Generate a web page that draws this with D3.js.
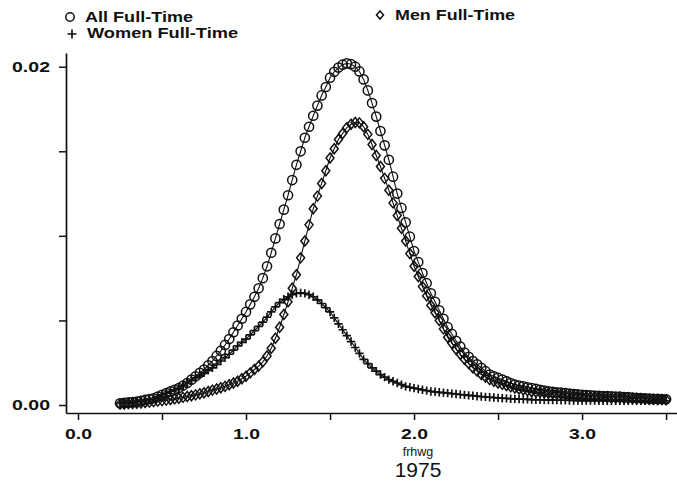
<!DOCTYPE html>
<html>
<head>
<meta charset="utf-8">
<script src="https://cdn.jsdelivr.net/npm/d3@7"></script>
<style>
  html, body { margin: 0; padding: 0; background: #fff; }
  svg { display: block; }
  text { font-family: "Liberation Sans", Arial, Helvetica, sans-serif; fill: #111; }
</style>
</head>
<body>
<svg id="chart" width="677" height="484"></svg>
<script>
// Kernel density of full-time hourly wage (frhwg), 1975, evaluated on a common grid
const frhwg = [
  0.25,0.275,0.3,0.325,0.35,0.375,0.4,0.425,0.45,0.475,
  0.5,0.525,0.55,0.575,0.6,0.625,0.65,0.675,0.7,0.725,
  0.75,0.775,0.8,0.825,0.85,0.875,0.9,0.925,0.95,0.975,
  1,1.025,1.05,1.075,1.1,1.125,1.15,1.175,1.2,1.225,
  1.25,1.275,1.3,1.325,1.35,1.375,1.4,1.425,1.45,1.475,
  1.5,1.525,1.55,1.575,1.6,1.625,1.65,1.675,1.7,1.725,
  1.75,1.775,1.8,1.825,1.85,1.875,1.9,1.925,1.95,1.975,
  2,2.025,2.05,2.075,2.1,2.125,2.15,2.175,2.2,2.225,
  2.25,2.275,2.3,2.325,2.35,2.375,2.4,2.425,2.45,2.475,
  2.5,2.525,2.55,2.575,2.6,2.625,2.65,2.675,2.7,2.725,
  2.75,2.775,2.8,2.825,2.85,2.875,2.9,2.925,2.95,2.975,
  3,3.025,3.05,3.075,3.1,3.125,3.15,3.175,3.2,3.225,
  3.25,3.275,3.3,3.325,3.35,3.375,3.4,3.425,3.45,3.475,
  3.5
];

const allFullTime = [
  0.00010,0.00012,0.00015,0.00017,0.00020,0.00025,0.00030,0.00035,0.00040,0.00050,
  0.00060,0.00070,0.00080,0.00090,0.00100,0.00115,0.00130,0.00150,0.00170,0.00190,
  0.00210,0.00235,0.00260,0.00290,0.00320,0.00355,0.00390,0.00430,0.00470,0.00510,
  0.00550,0.00595,0.00640,0.00690,0.00750,0.00820,0.00900,0.00985,0.01070,0.01155,
  0.01240,0.01330,0.01420,0.01500,0.01580,0.01645,0.01710,0.01770,0.01830,0.01880,
  0.01935,0.01970,0.01995,0.02012,0.02020,0.02015,0.02000,0.01972,0.01925,0.01860,
  0.01785,0.01705,0.01620,0.01535,0.01450,0.01350,0.01250,0.01165,0.01080,0.00995,
  0.00910,0.00845,0.00780,0.00720,0.00660,0.00610,0.00560,0.00510,0.00460,0.00420,
  0.00380,0.00345,0.00310,0.00285,0.00260,0.00240,0.00220,0.00200,0.00180,0.00170,
  0.00160,0.00150,0.00140,0.00130,0.00120,0.00115,0.00110,0.00105,0.00100,0.00095,
  0.00090,0.00085,0.00080,0.00078,0.00075,0.00073,0.00070,0.00068,0.00065,0.00063,
  0.00060,0.00058,0.00057,0.00055,0.00054,0.00053,0.00052,0.00051,0.00050,0.00049,
  0.00047,0.00046,0.00044,0.00043,0.00041,0.00040,0.00038,0.00037,0.00036,0.00035,
  0.00034
];

const menFullTime = [
  0.00005,0.00006,0.00008,0.00009,0.00010,0.00012,0.00015,0.00017,0.00020,0.00023,
  0.00026,0.00029,0.00032,0.00036,0.00040,0.00045,0.00050,0.00055,0.00060,0.00066,
  0.00072,0.00080,0.00088,0.00095,0.00102,0.00110,0.00120,0.00130,0.00140,0.00155,
  0.00170,0.00190,0.00210,0.00230,0.00255,0.00290,0.00335,0.00395,0.00460,0.00535,
  0.00610,0.00690,0.00770,0.00870,0.00970,0.01065,0.01160,0.01235,0.01310,0.01385,
  0.01460,0.01515,0.01570,0.01605,0.01640,0.01660,0.01670,0.01668,0.01645,0.01600,
  0.01540,0.01475,0.01410,0.01340,0.01270,0.01195,0.01120,0.01045,0.00970,0.00895,
  0.00820,0.00760,0.00700,0.00645,0.00590,0.00545,0.00500,0.00450,0.00400,0.00365,
  0.00330,0.00300,0.00270,0.00245,0.00220,0.00200,0.00180,0.00165,0.00150,0.00140,
  0.00130,0.00122,0.00115,0.00108,0.00100,0.00095,0.00090,0.00085,0.00080,0.00077,
  0.00075,0.00072,0.00070,0.00067,0.00065,0.00063,0.00060,0.00058,0.00056,0.00053,
  0.00050,0.00049,0.00048,0.00047,0.00046,0.00045,0.00044,0.00043,0.00042,0.00041,
  0.00040,0.00039,0.00038,0.00037,0.00036,0.00035,0.00034,0.00033,0.00032,0.00032,
  0.00031
];

const womenFullTime = [
  0.00010,0.00010,0.00012,0.00015,0.00020,0.00025,0.00030,0.00035,0.00040,0.00050,
  0.00060,0.00070,0.00080,0.00090,0.00100,0.00115,0.00130,0.00145,0.00160,0.00175,
  0.00190,0.00205,0.00220,0.00240,0.00260,0.00280,0.00300,0.00325,0.00350,0.00370,
  0.00390,0.00415,0.00440,0.00465,0.00490,0.00520,0.00550,0.00580,0.00605,0.00625,
  0.00640,0.00652,0.00660,0.00663,0.00660,0.00652,0.00640,0.00622,0.00600,0.00575,
  0.00550,0.00515,0.00480,0.00445,0.00410,0.00375,0.00340,0.00305,0.00270,0.00245,
  0.00220,0.00200,0.00180,0.00165,0.00150,0.00140,0.00130,0.00120,0.00110,0.00105,
  0.00100,0.00095,0.00090,0.00085,0.00080,0.00078,0.00075,0.00073,0.00070,0.00067,
  0.00065,0.00062,0.00060,0.00057,0.00055,0.00052,0.00050,0.00048,0.00046,0.00044,
  0.00042,0.00040,0.00039,0.00037,0.00036,0.00035,0.00034,0.00033,0.00032,0.00031,
  0.00031,0.00030,0.00030,0.00029,0.00029,0.00028,0.00028,0.00027,0.00027,0.00026,
  0.00026,0.00026,0.00026,0.00026,0.00025,0.00025,0.00025,0.00025,0.00025,0.00025,
  0.00025,0.00025,0.00025,0.00025,0.00025,0.00025,0.00025,0.00025,0.00025,0.00025,
  0.00025
];

const seriesNames = ["All Full-Time", "Men Full-Time", "Women Full-Time"];
const xTicks = [0, 0.5, 1, 1.5, 2, 2.5, 3, 3.5];
const xTickLabels = ["0.0", "", "1.0", "", "2.0", "", "3.0", ""];
const yTicks = [0, 0.005, 0.01, 0.015, 0.02];
const yTickLabels = ["0.00", "", "", "", "0.02"];
const xTitle = "frhwg";
const chartTitle = "1975";

const svg = d3.select("#chart");
svg.append("rect").attr("width", 677).attr("height", 484).attr("fill", "#fff");

const x = d3.scaleLinear().domain([-0.0714, 3.565]).range([66, 677]);
const y = d3.scaleLinear().domain([-0.000473, 0.020811]).range([413, 53]);

// axes
const gx = svg.append("g").attr("transform", `translate(0,${y.range()[0]})`)
  .call(d3.axisBottom(x).tickValues(xTicks).tickSize(7).tickSizeOuter(0)
    .tickFormat((d, i) => xTickLabels[i]));
const gy = svg.append("g").attr("transform", `translate(${x.range()[0]},0)`)
  .call(d3.axisLeft(y).tickValues(yTicks).tickSize(7).tickSizeOuter(0)
    .tickFormat((d, i) => yTickLabels[i]));

[gx, gy].forEach(g => {
  g.select(".domain").attr("stroke", "#111").attr("stroke-width", 1.7);
  g.selectAll(".tick line").attr("stroke", "#111").attr("stroke-width", 1.5);
  g.selectAll(".tick text").attr("fill", "#111").attr("font-family", null)
    .attr("font-size", 14).attr("font-weight", "bold");
});
gx.selectAll(".tick text").attr("y", 16)
  .attr("textLength", d => xTickLabels[xTicks.indexOf(d)] ? 27 : null)
  .attr("lengthAdjust", "spacingAndGlyphs");
gy.selectAll(".tick text").attr("x", -16)
  .attr("textLength", d => yTickLabels[yTicks.indexOf(d)] ? 38 : null)
  .attr("lengthAdjust", "spacingAndGlyphs");

// symbols
function circleMark(g, cx, cy, r) {
  g.append("circle").attr("cx", cx).attr("cy", cy).attr("r", r)
    .attr("fill", "none").attr("stroke", "#111").attr("stroke-width", 1.5);
}
function diamondMark(g, cx, cy, w, h) {
  g.append("path")
    .attr("d", `M${cx},${cy - h}L${cx + w},${cy}L${cx},${cy + h}L${cx - w},${cy}Z`)
    .attr("fill", "none").attr("stroke", "#111").attr("stroke-width", 1.5);
}
function plusMark(g, cx, cy, s) {
  g.append("path")
    .attr("d", `M${cx - s},${cy}H${cx + s}M${cx},${cy - s}V${cy + s}`)
    .attr("fill", "none").attr("stroke", "#111").attr("stroke-width", 1.7);
}

const line = d3.line().x((d, i) => x(frhwg[i])).y(d => y(d));
const plot = svg.append("g");

function drawSeries(values, markFn) {
  plot.append("path").attr("d", line(values))
    .attr("fill", "none").attr("stroke", "#111").attr("stroke-width", 1.1);
  const g = plot.append("g");
  values.forEach((v, i) => markFn(g, x(frhwg[i]), y(v)));
}

drawSeries(allFullTime, (g, cx, cy) => circleMark(g, cx, cy, 4.6));
drawSeries(menFullTime, (g, cx, cy) => diamondMark(g, cx, cy, 4, 5));
drawSeries(womenFullTime, (g, cx, cy) => plusMark(g, cx, cy, 4.2));

// legend
const leg = svg.append("g").attr("font-size", 14).attr("font-weight", "bold");
circleMark(leg, 70, 17, 4.2);
leg.append("text").attr("x", 85).attr("y", 22).text(seriesNames[0])
  .attr("textLength", 108).attr("lengthAdjust", "spacingAndGlyphs");
plusMark(leg, 72, 34, 4.5);
leg.append("text").attr("x", 87).attr("y", 38).text(seriesNames[2])
  .attr("textLength", 151).attr("lengthAdjust", "spacingAndGlyphs");
diamondMark(leg, 380, 15, 3.5, 4);
leg.append("text").attr("x", 395).attr("y", 20).text(seriesNames[1])
  .attr("textLength", 120).attr("lengthAdjust", "spacingAndGlyphs");

// titles
svg.append("text").attr("x", 418).attr("y", 456).attr("text-anchor", "middle")
  .attr("font-size", 12.5).text(xTitle);
svg.append("text").attr("x", 418).attr("y", 477).attr("text-anchor", "middle")
  .attr("font-size", 21).text(chartTitle);
</script>
</body>
</html>
